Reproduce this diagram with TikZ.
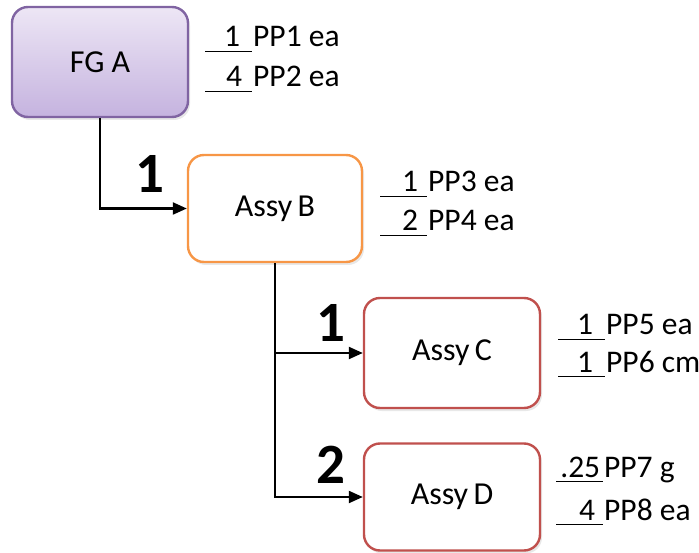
\documentclass[tikz,border=0pt]{standalone}
\usepackage{fontspec}
\setmainfont{Carlito}
\usetikzlibrary{arrows.meta,shadows}
\definecolor{fgborder}{HTML}{8064A2}
\definecolor{fgtop}{HTML}{EDE6F5}
\definecolor{fgbot}{HTML}{C5B3DF}
\definecolor{bborder}{HTML}{F79646}
\definecolor{cborder}{HTML}{C0504D}
\newcommand{\pplabel}[3]{\rlap{\rule[-5pt]{47pt}{1.3pt}}\makebox[47pt][r]{#1\hspace{#2}}\hspace{1pt}#3}
\tikzset{
  boxbase/.style={rounded corners=16pt, line width=2.4pt, align=center,
    font=\fontsize{32}{36}\selectfont,
    drop shadow={opacity=0.18, shadow xshift=2pt, shadow yshift=-3pt}},
  fgbox/.style={boxbase, draw=fgborder, top color=fgtop, bottom color=fgbot},
  bbox/.style={boxbase, draw=bborder, fill=white},
  cbox/.style={boxbase, draw=cborder, fill=white},
  conn/.style={line width=2.2pt, -{Triangle[length=14pt,width=12pt]}},
  qtylbl/.style={anchor=base west, inner sep=0pt, font=\fontsize{31.5}{36}\selectfont},
  countlbl/.style={anchor=base, inner sep=0pt, font=\fontsize{57}{60}\selectfont\bfseries}
}
\begin{document}
\begin{tikzpicture}[x=1pt,y=-1pt]
\useasboundingbox (0,0) rectangle (699,553);
\node[fgbox, minimum width=176pt, minimum height=110pt] (fga) at (100,62) {FG A};
\node[bbox, minimum width=174pt, minimum height=107pt] (assyb) at (275,208.5) {Assy\,B};
\node[cbox, minimum width=176pt, minimum height=110pt] (assyc) at (452,353) {Assy\,C};
\node[cbox, minimum width=176pt, minimum height=107pt] (assyd) at (452,497) {Assy\,D};

\draw[conn] (fga.south) |- (assyb.west);
\draw[conn] (assyb.south) |- (assyc.west);
\draw[conn] (assyb.south) |- (assyd.west);

\node[countlbl] (n1) at (150,193) {1};
\node[countlbl] (n2) at (331,342) {1};
\node[countlbl] (n3) at (331,483) {2};

\node[qtylbl] (q1) at (205,47) {\pplabel{1}{12pt}{PP1 ea}};
\node[qtylbl] (q2) at (205,87) {\pplabel{4}{10pt}{PP2 ea}};
\node[qtylbl] (q3) at (380,192) {\pplabel{1}{9pt}{PP3 ea}};
\node[qtylbl] (q4) at (380,231) {\pplabel{2}{9pt}{PP4 ea}};
\node[qtylbl] (q5) at (558,335) {\pplabel{1}{12pt}{PP5 ea}};
\node[qtylbl] (q6) at (558,372) {\pplabel{1}{12pt}{PP6 cm}};
\node[qtylbl] (q7) at (556,477) {\pplabel{.25}{3pt}{PP7 g}};
\node[qtylbl] (q8) at (556,520) {\pplabel{4}{8pt}{PP8 ea}};
\end{tikzpicture}
\end{document}
